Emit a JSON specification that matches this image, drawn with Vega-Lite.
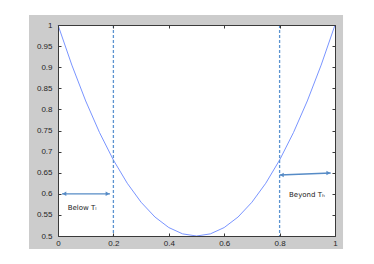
{
  "$schema": "https://vega.github.io/schema/vega-lite/v6.json",
  "width": 277,
  "height": 211,
  "autosize": "none",
  "padding": {"left": 58, "top": 25, "right": 39, "bottom": 28},
  "background": "white",
  "config": {
    "view": {"stroke": null},
    "font": "Liberation Sans",
    "axis": {
      "grid": false,
      "domainColor": "#3a3a3a",
      "domainWidth": 1,
      "tickColor": "#3a3a3a",
      "tickSize": -3,
      "tickWidth": 1,
      "labelColor": "#262626",
      "labelFont": "Liberation Sans",
      "labelFontSize": 8,
      "labelFlush": false,
      "labelOverlap": false,
      "title": null
    }
  },
  "datasets": {
    "curve": [
      {"x": 0, "y": 1}, {"x": 0.05, "y": 0.905}, {"x": 0.1, "y": 0.82}, {"x": 0.15, "y": 0.745},
      {"x": 0.2, "y": 0.68}, {"x": 0.25, "y": 0.625}, {"x": 0.3, "y": 0.58}, {"x": 0.35, "y": 0.545},
      {"x": 0.4, "y": 0.52}, {"x": 0.45, "y": 0.505}, {"x": 0.5, "y": 0.5}, {"x": 0.55, "y": 0.505},
      {"x": 0.6, "y": 0.52}, {"x": 0.65, "y": 0.545}, {"x": 0.7, "y": 0.58}, {"x": 0.75, "y": 0.625},
      {"x": 0.8, "y": 0.68}, {"x": 0.85, "y": 0.745}, {"x": 0.9, "y": 0.82}, {"x": 0.95, "y": 0.905},
      {"x": 1, "y": 1}
    ],
    "thresholds": [{"x": 0.2}, {"x": 0.8}],
    "arrows": [
      {"x": 0.0144, "x2": 0.1877, "y": 0.6, "y2": 0.6},
      {"x": 0.8, "x2": 0.9845, "y": 0.6445, "y2": 0.6493}
    ],
    "heads": [
      {"x": 0.023, "y": 0.6, "dir": "left"},
      {"x": 0.179, "y": 0.6, "dir": "right"},
      {"x": 0.808, "y": 0.6447, "dir": "left"},
      {"x": 0.976, "y": 0.6491, "dir": "right"}
    ],
    "labels": [
      {"x": 0.035, "y": 0.5657, "text": "Below Tₗ"},
      {"x": 0.834, "y": 0.597, "text": "Beyond Tₕ"}
    ]
  },
  "layer": [
    {
      "data": {"values": [{}]},
      "mark": {"type": "rect", "fill": "#cccccc", "clip": false},
      "encoding": {
        "x": {"datum": -0.1047, "type": "quantitative", "scale": {"domain": [0, 1], "nice": false, "zero": false}, "axis": null},
        "x2": {"datum": 1.029},
        "y": {"datum": 0.4692, "type": "quantitative", "scale": {"domain": [0.5, 1], "nice": false, "zero": false}, "axis": null},
        "y2": {"datum": 1.0237}
      }
    },
    {
      "data": {"values": [{}]},
      "mark": {"type": "rect", "fill": "white", "clip": false},
      "encoding": {
        "x": {"datum": 0, "type": "quantitative", "axis": null},
        "x2": {"datum": 1},
        "y": {"datum": 0.5, "type": "quantitative", "axis": null},
        "y2": {"datum": 1}
      }
    },
    {
      "data": {"name": "curve"},
      "mark": {"type": "line", "color": "#6a88ff", "strokeWidth": 0.9},
      "encoding": {
        "x": {"field": "x", "type": "quantitative", "axis": {"orient": "bottom", "zindex": 1, "values": [0, 0.2, 0.4, 0.6, 0.8, 1], "format": "~g", "labelPadding": 6.5}},
        "y": {"field": "y", "type": "quantitative", "axis": {"orient": "left", "zindex": 1, "values": [0.5, 0.55, 0.6, 0.65, 0.7, 0.75, 0.8, 0.85, 0.9, 0.95, 1], "format": "~g", "labelPadding": 9}}
      }
    },
    {
      "data": {"name": "thresholds"},
      "mark": {"type": "rule", "color": "#5b93d0", "strokeWidth": 1.3, "strokeDash": [3, 2]},
      "encoding": {
        "x": {"field": "x", "type": "quantitative", "axis": null}
      }
    },
    {
      "data": {"name": "arrows"},
      "mark": {"type": "rule", "color": "#568bc6", "strokeWidth": 1.3},
      "encoding": {
        "x": {"field": "x", "type": "quantitative", "axis": null},
        "x2": {"field": "x2"},
        "y": {"field": "y", "type": "quantitative", "axis": null},
        "y2": {"field": "y2"}
      }
    },
    {
      "data": {"name": "heads"},
      "mark": {"type": "point", "filled": true, "color": "#568bc6", "size": 20, "opacity": 1},
      "encoding": {
        "x": {"field": "x", "type": "quantitative", "axis": {"orient": "top", "zindex": 1, "labels": false, "values": [0, 0.2, 0.4, 0.6, 0.8, 1]}},
        "y": {"field": "y", "type": "quantitative", "axis": {"orient": "right", "zindex": 1, "labels": false, "values": [0.5, 0.55, 0.6, 0.65, 0.7, 0.75, 0.8, 0.85, 0.9, 0.95, 1]}},
        "shape": {"field": "dir", "type": "nominal", "scale": {"domain": ["left", "right"], "range": ["triangle-left", "triangle-right"]}, "legend": null}
      }
    },
    {
      "data": {"name": "labels"},
      "mark": {"type": "text", "align": "left", "baseline": "middle", "fontSize": 7, "font": "DejaVu Sans", "color": "#222222"},
      "encoding": {
        "x": {"field": "x", "type": "quantitative", "axis": null},
        "y": {"field": "y", "type": "quantitative", "axis": null},
        "text": {"field": "text"}
      }
    }
  ]
}
